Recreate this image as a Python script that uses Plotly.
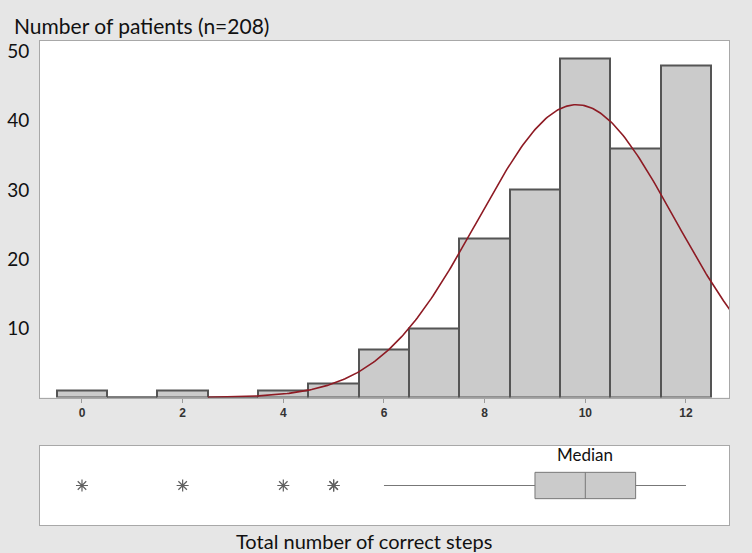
import numpy as np
import plotly.graph_objects as go

# ---- data ----
steps = [0, 1, 2, 3, 4, 5, 6, 7, 8, 9, 10, 11, 12]
patients = [1, 0, 1, 0, 1, 2, 7, 10, 23, 30, 49, 36, 48]
x_ticks = [0, 2, 4, 6, 8, 10, 12]
y_ticks = [10, 20, 30, 40, 50]

W, H = 752, 553
FONT = "Lato"
BAR_FILL = "#cbcbcb"
BAR_LINE = "#555555"
FRAME = "#a8a8a8"

steps_a = np.array(steps, dtype=float)
counts = np.array(patients, dtype=float)
n = int(counts.sum())
raw = np.repeat(steps_a, counts.astype(int))
mean = raw.mean()
sd = raw.std(ddof=1)

x_range = [-0.834, 12.855]

# fitted normal curve (scaled to counts, bin width 1)
xc = np.linspace(2.5, x_range[1] + 0.1, 300)
yc = n * np.exp(-0.5 * ((xc - mean) / sd) ** 2) / (sd * np.sqrt(2 * np.pi))

fig = go.Figure()
fig.add_trace(go.Bar(
    x=steps, y=patients, width=1,
    marker=dict(color=BAR_FILL, line=dict(color=BAR_LINE, width=2)),
    xaxis="x", yaxis="y", showlegend=False,
))
# empty bins drawn as outline at zero
zx, zy = [], []
for s, c in zip(steps, patients):
    if c == 0:
        zx += [s - 0.5, s + 0.5, None]
        zy += [0, 0, None]
fig.add_trace(go.Scatter(x=zx, y=zy, mode="lines",
                         line=dict(color=BAR_LINE, width=2),
                         xaxis="x", yaxis="y", showlegend=False))
fig.add_trace(go.Scatter(x=xc, y=yc, mode="lines",
                         line=dict(color="#8e1b24", width=1.6),
                         xaxis="x", yaxis="y", showlegend=False))
fig.add_trace(go.Box(
    x=raw, y0=0, orientation="h", xaxis="x2", yaxis="y2",
    boxpoints="outliers", pointpos=0, jitter=0, width=1, whiskerwidth=0,
    fillcolor="#cbcbcb", line=dict(color="#777777", width=1),
    marker=dict(symbol="asterisk-open", size=10, color="#606060",
                line=dict(color="#606060", width=1.2)),
    showlegend=False,
))

xdom = [40 / W, 729 / W]
fig.update_layout(
    width=W, height=H,
    margin=dict(l=0, r=0, t=0, b=0),
    paper_bgcolor="#e6e6e6", plot_bgcolor="white",
    bargap=0,
    font=dict(family=FONT, color="black"),
    xaxis=dict(domain=xdom, range=x_range, tickvals=x_ticks,
               ticks="outside", ticklen=4, tickcolor="#9a9a9a",
               tickfont=dict(family="Liberation Sans", size=12, color="#333333", weight="bold"),
               showline=True, mirror=True, linecolor=FRAME, linewidth=1,
               showgrid=False, zeroline=False, anchor="y"),
    yaxis=dict(domain=[1 - 397.5 / H, 1 - 40.5 / H], range=[0, 51.6],
               tickvals=y_ticks, ticks="", ticklabelstandoff=6,
               tickfont=dict(family=FONT, size=19, color="#111111"),
               showline=True, mirror=True, linecolor=FRAME, linewidth=1,
               showgrid=False, zeroline=False, anchor="x"),
    xaxis2=dict(domain=xdom, range=x_range, showticklabels=False, ticks="",
                showline=True, mirror=True, linecolor=FRAME, linewidth=1,
                showgrid=False, zeroline=False, anchor="y2"),
    yaxis2=dict(domain=[1 - 525 / H, 1 - 446 / H], range=[-1.5, 1.5], type="linear",
                showticklabels=False, ticks="",
                showline=True, mirror=True, linecolor=FRAME, linewidth=1,
                showgrid=False, zeroline=False, anchor="x2"),
    annotations=[
        dict(text="Number of patients (n=208)", xref="paper", yref="paper",
             x=12 / W, y=1 - 26 / H, xanchor="left", yanchor="middle",
             showarrow=False, font=dict(family=FONT, size=21, color="#111111")),
        dict(text="Total number of correct steps", xref="paper", yref="paper",
             x=364 / W, y=1 - 541 / H, xanchor="center", yanchor="middle",
             showarrow=False, font=dict(family=FONT, size=20, color="#111111")),
        dict(text="Median", xref="x2", yref="y2", x=10, y=1.16,
             xanchor="center", yanchor="middle", showarrow=False,
             font=dict(family=FONT, size=17, color="#111111")),
    ],
)

fig.write_html("out.html", config={"displayModeBar": False},
               post_script="document.body.style.margin='0';document.body.style.overflow='hidden';")
